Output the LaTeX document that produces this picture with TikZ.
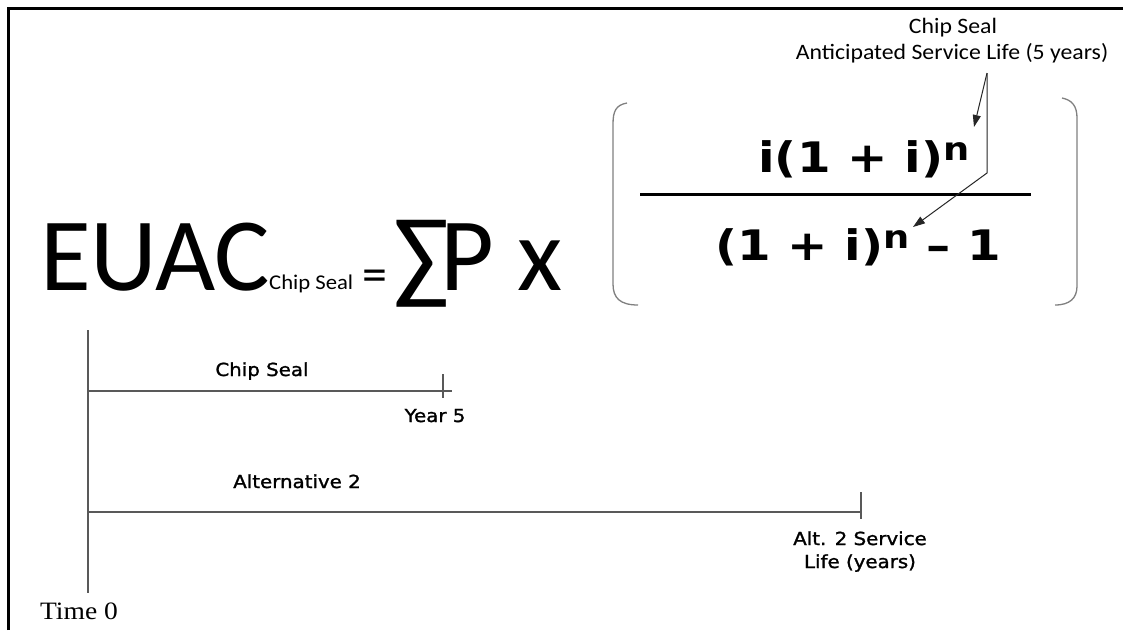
\documentclass[tikz,border=0pt]{standalone}
\usepackage{fontspec}
\setmainfont{Carlito}
\newfontfamily\calw{Carlito}[FakeStretch=1.08]
\newfontfamily\verd{DejaVu Sans}[FakeStretch=1.1, FakeBold=1.4]
\newfontfamily\numf{DejaVu Sans}[FakeStretch=1.15]
\newfontfamily\tms{Liberation Serif}[FakeStretch=1.1]
\usetikzlibrary{arrows.meta}
\newcommand\sz[1]{\fontsize{#1}{#1}\selectfont}
\begin{document}
\begin{tikzpicture}[x=1pt,y=-1pt,
  txt/.style={inner sep=0pt, anchor=base},
  tl/.style={line width=1.6pt, draw=black!65},
  brk/.style={line width=1.3pt, draw=black!50},
  ptr/.style={line width=1pt, draw=black!85, -{Triangle[length=12pt,width=8pt]}},
  small/.style={txt, font=\verd\sz{18}}]
\useasboundingbox (0,0) rectangle (1123,630);
\fill[white] (0,0) rectangle (1123,630);
\draw[line width=3pt] (8.5,630) -- (8.5,8.5) -- (1123,8.5);

% top label
\node[txt, font=\calw\sz{22}] (lbl1) at (953,33) {Chip Seal};
\node[txt, font=\calw\sz{22}] (lbl2) at (952,59) {Anticipated Service Life (5 years)};

% formula left part
\node[txt, anchor=base west, font=\sz{104}] (euac) at (40,290) {EUAC};
\node[txt, anchor=base west, font=\calw\sz{21}] (sub) at (269,289) {Chip Seal};
\node[txt, font=\sz{50}] (eq) at (375,291) {=};
\node[txt, anchor=base west, font=\sz{104}] (sig) at (393,290) {∑};
\node[txt, anchor=base west, font=\sz{104}] (px) at (440,290) {P x};

% fraction
\node[txt, font=\numf\bfseries\sz{42}] (num) at (864,172) {i(1 + i)\raisebox{12pt}{\sz{32}n}};
\node[txt, font=\numf\bfseries\sz{42}] (den) at (858,260) {(1 + i)\raisebox{12pt}{\sz{32}n} – 1};
\draw[line width=3pt] (640,194) -- (1031,194);

% brackets
\draw[brk] (627,103) .. controls (616,105) and (613,111) .. (613,124) -- (613,284) .. controls (613,298) and (620,305) .. (638,305);
\draw[brk] (1062,98) .. controls (1072,100) and (1077,106) .. (1077,118) -- (1077,286) .. controls (1077,298) and (1070,305) .. (1055,305);

% pointer arrows
\coordinate (apex) at (987,73);
\coordinate (knee) at (987,173);
\coordinate (tip1) at (974,127);
\coordinate (tip2) at (913,227);
\draw[ptr] (apex) -- (tip1);
\draw[ptr] (apex) -- (knee) -- (tip2);

% timeline
\coordinate (t0a) at (88,330);
\coordinate (t0b) at (88,593);
\coordinate (c0) at (88,391);
\coordinate (c5) at (452,391);
\coordinate (c5a) at (443,374);
\coordinate (c5b) at (443,398);
\coordinate (a0) at (88,512);
\coordinate (a2) at (861,512);
\coordinate (a2a) at (861,492);
\coordinate (a2b) at (861,519);
\draw[tl] (t0a) -- (t0b);
\draw[tl] (c0) -- (c5);
\draw[tl] (c5a) -- (c5b);
\draw[tl] (a0) -- (a2);
\draw[tl] (a2a) -- (a2b);

\node[small] (cs) at (262,376) {Chip Seal};
\node[small] (y5) at (435,422) {Year 5};
\node[small] (alt) at (297,488) {Alternative 2};
\node[small] (asl1) at (860,545) {Alt. 2 Service};
\node[small] (asl2) at (860,568) {Life (years)};
\node[txt, font=\tms\sz{25}] (t0) at (79,619) {Time 0};
\end{tikzpicture}
\end{document}
